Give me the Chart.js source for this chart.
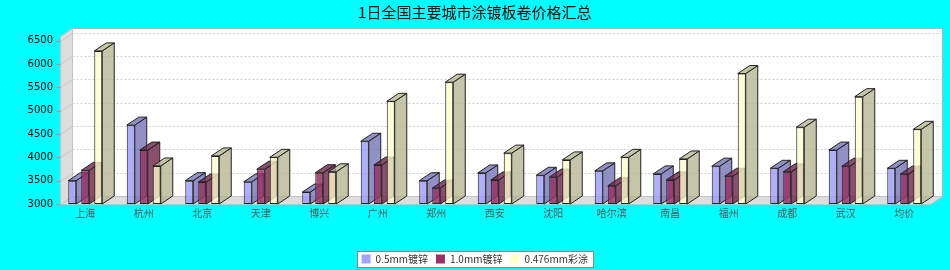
<!DOCTYPE html>
<html lang="zh">
<head>
    <meta charset="UTF-8">
    <title>1日全国主要城市涂镀板卷价格汇总</title>
    <script src="https://cdn.jsdelivr.net/npm/chart.js"></script>
    <style>
        body { margin: 0; background: #00ffff; }
        canvas { display: block; }
    </style>
</head>
<body>
    <canvas id="priceChart" width="950" height="270"></canvas>

    <script>
        const cities = ['上海', '杭州', '北京', '天津', '博兴', '广州', '郑州', '西安', '沈阳', '哈尔滨', '南昌', '福州', '成都', '武汉', '均价'];
        const galv05 = [3500, 4690, 3500, 3475, 3255, 4345, 3500, 3665, 3615, 3710, 3645, 3810, 3765, 4155, 3765];
        const galv10 = [3720, 4155, 3470, 3745, 3670, 3835, 3340, 3515, 3575, 3390, 3515, 3595, 3690, 3810, 3640];
        const coated0476 = [6280, 3815, 4030, 4000, 3690, 5200, 5610, 4090, 3945, 4000, 3965, 5795, 4645, 5300, 4600];
        const seriesNames = ['0.5mm镀锌', '1.0mm镀锌', '0.476mm彩涂'];
        const yTicks = [3000, 3500, 4000, 4500, 5000, 5500, 6000, 6500];

        const DX = 12, DY = 8;   // depth of the 3d effect
        const frontColors = ['rgba(153,153,255,0.78)', 'rgba(153,51,102,0.85)', 'rgba(255,255,204,0.78)'];
        const sideColors = ['rgba(107,107,178,0.75)', 'rgba(107,35,71,0.8)', 'rgba(178,178,142,0.75)'];
        const legendColors = ['#a3a3ff', '#993366', '#ffffcc'];

        function poly(ctx, pts, fill, stroke) {
            ctx.beginPath();
            ctx.moveTo(pts[0][0], pts[0][1]);
            for (let i = 1; i < pts.length; i++) ctx.lineTo(pts[i][0], pts[i][1]);
            ctx.closePath();
            if (fill) { ctx.fillStyle = fill; ctx.fill(); }
            if (stroke) { ctx.strokeStyle = stroke; ctx.stroke(); }
        }

        // draws walls, floor, grid and the side/top faces of the bars
        const threeD = {
            id: 'threeD',
            beforeDraw(chart) {
                const { ctx, chartArea: a, scales: { y } } = chart;
                const fl = Math.round(a.left) + 4.5, fb = Math.round(a.bottom) + 0.5, ft = Math.round(a.top) + 0.5;
                const br = fl + 882;
                const fr = br - DX;
                ctx.save();
                ctx.fillStyle = '#00ffff';
                ctx.fillRect(0, 0, chart.width, chart.height);
                ctx.lineWidth = 1;

                // back wall
                ctx.fillStyle = '#ffffff';
                ctx.fillRect(fl + DX, ft - DY, br - fl - DX, fb - ft);
                ctx.strokeStyle = '#b4b4b4';
                ctx.strokeRect(fl + DX, ft - DY, br - fl - DX, fb - ft);

                // left wall and floor
                poly(ctx, [[fl, ft], [fl + DX, ft - DY], [fl + DX, fb - DY], [fl, fb]], '#dddddd', '#c4c4c4');
                poly(ctx, [[fl, fb], [fl + DX, fb - DY], [br, fb - DY], [fr, fb]], '#dddddd', '#c4c4c4');

                yTicks.forEach(v => {
                    const py = Math.round(y.getPixelForValue(v)) + 0.5;
                    if (v > yTicks[0]) {
                        ctx.setLineDash([2, 2]);
                        ctx.strokeStyle = '#d2d2d2';
                        ctx.beginPath();
                        ctx.moveTo(fl + DX, py - DY);
                        ctx.lineTo(br, py - DY);
                        ctx.stroke();
                        ctx.setLineDash([]);
                        ctx.strokeStyle = '#c8c8c8';
                        ctx.beginPath();
                        ctx.moveTo(fl, py);
                        ctx.lineTo(fl + DX, py - DY);
                        ctx.stroke();
                    }
                    ctx.strokeStyle = '#d88080';
                    ctx.beginPath();
                    ctx.moveTo(fl - 4, py);
                    ctx.lineTo(fl, py);
                    ctx.stroke();
                });

                // legend frame
                const boxes = chart.legend.legendHitBoxes;
                if (boxes && boxes.length) {
                    const l = Math.min(...boxes.map(b => b.left)) - 5;
                    const r = Math.max(...boxes.map(b => b.left + b.width)) + 5;
                    const t = boxes[0].top - 3;
                    const h = boxes[0].height + 6;
                    ctx.fillStyle = '#ffffff';
                    ctx.fillRect(Math.round(l) + 0.5, Math.round(t) + 0.5, Math.round(r - l), Math.round(h));
                    ctx.strokeStyle = '#888888';
                    ctx.strokeRect(Math.round(l) + 0.5, Math.round(t) + 0.5, Math.round(r - l), Math.round(h));
                }
                ctx.restore();
            },
            beforeDatasetDraw() {
                return false;   // drawn in order below
            },
            afterDatasetsDraw(chart) {
                const ctx = chart.ctx;
                for (let i = 0; i < chart.data.datasets.length; i++) {
                    const meta = chart.getDatasetMeta(i);
                    meta.controller.draw();
                    ctx.save();
                    ctx.lineWidth = 1;
                    meta.data.forEach(bar => {
                        const l = bar.x - bar.width / 2, r = bar.x + bar.width / 2;
                        const t = bar.y, b = bar.base;
                        poly(ctx, [[r, t], [r + DX, t - DY], [r + DX, b - DY], [r, b]], sideColors[i], '#222222');
                        poly(ctx, [[l, t], [l + DX, t - DY], [r + DX, t - DY], [r, t]], sideColors[i], '#222222');
                    });
                    ctx.restore();
                }
            }
        };

        const seriesValues = [galv05, galv10, coated0476];

        new Chart(document.getElementById('priceChart'), {
            type: 'bar',
            data: {
                labels: cities,
                datasets: seriesValues.map((vals, i) => ({
                    label: seriesNames[i],
                    data: vals,
                    base: yTicks[0],
                    backgroundColor: frontColors[i],
                    borderColor: '#222222',
                    borderWidth: 1,
                    borderSkipped: false,
                    categoryPercentage: 39 / 58.5,
                    barPercentage: 8 / 13
                }))
            },
            options: {
                responsive: false,
                animation: false,
                events: [],
                layout: { padding: { left: 16, right: 16.5, top: 0, bottom: 0 } },
                scales: {
                    x: {
                        grid: { display: false, drawTicks: false },
                        border: { display: false },
                        ticks: {
                            padding: 3,
                            color: '#555555',
                            font: { family: '"Noto Sans CJK SC", sans-serif', size: 10 }
                        },
                        afterFit: s => { s.height = 42; }
                    },
                    y: {
                        min: 3000,
                        max: 6600,
                        grid: { display: false, drawTicks: false },
                        border: { display: false },
                        ticks: {
                            stepSize: 500,
                            padding: 3,
                            color: '#000000',
                            font: { family: '"DejaVu Sans", sans-serif', size: 10 },
                            callback: v => String(v)
                        },
                        afterBuildTicks: s => { s.ticks = yTicks.map(v => ({ value: v })); },
                        afterFit: s => { s.width = 40; }
                    }
                },
                plugins: {
                    title: {
                        display: true,
                        text: '1日全国主要城市涂镀板卷价格汇总',
                        color: '#000000',
                        font: { family: '"Noto Sans CJK SC", sans-serif', size: 15, weight: 'normal' },
                        padding: { top: 3, bottom: 15 }
                    },
                    legend: {
                        position: 'bottom',
                        maxHeight: 24,
                        labels: {
                            boxWidth: 9,
                            boxHeight: 9,
                            padding: 8,
                            color: '#333333',
                            font: { family: '"Noto Sans CJK SC", sans-serif', size: 10 },
                            generateLabels: chart => chart.data.datasets.map((ds, i) => ({
                                text: ds.label,
                                fillStyle: legendColors[i],
                                strokeStyle: legendColors[i],
                                lineWidth: 0,
                                hidden: false,
                                datasetIndex: i,
                                fontColor: '#333333'
                            }))
                        }
                    },
                    tooltip: { enabled: false }
                }
            },
            plugins: [threeD]
        });
    </script>
</body>
</html>
